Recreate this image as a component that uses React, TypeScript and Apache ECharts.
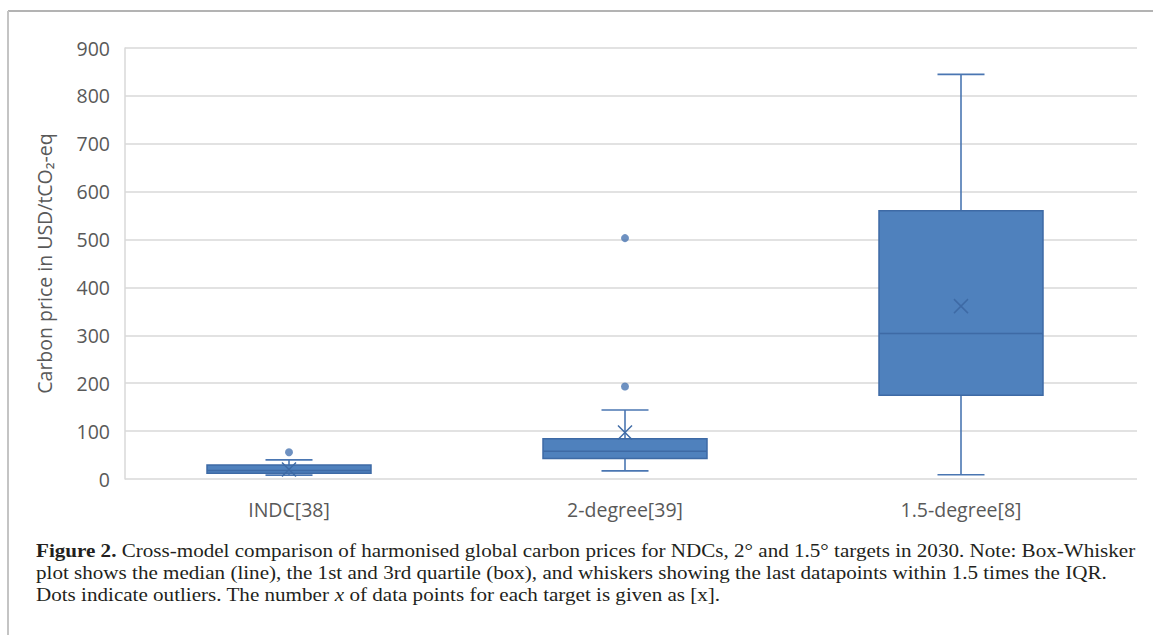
import React, { useEffect, useRef } from "react";
import * as echarts from "echarts";

const categories = ["INDC[38]", "2-degree[39]", "1.5-degree[8]"];
const lowWhisker = [8, 17, 9];
const q1 = [12, 43, 175];
const median = [18, 58, 304];
const q3 = [29, 84, 560];
const highWhisker = [40, 144, 845];
const means = [20, 97, 361];
const outliers: [number, number][] = [
  [0, 56],
  [1, 193],
  [1, 503],
];
const yMin = 0;
const yMax = 900;
const yInterval = 100;

const yAxisName = "Carbon price in USD/tCO₂-eq";
const captionLines = [
  "{b|Figure 2.} Cross-model comparison of harmonised global carbon prices for NDCs, 2° and 1.5° targets in 2030. Note: Box-Whisker",
  "plot shows the median (line), the 1st and 3rd quartile (box), and whiskers showing the last datapoints within 1.5 times the IQR.",
  "Dots indicate outliers. The number {i|x} of data points for each target is given as [x].",
];

const BOX_FILL = "#4f81bd";
const BOX_STROKE = "#3e6aa5";
const LINE_BLUE = "#4a76b2";
const GRID_GRAY = "#d9d9d9";
const LABEL_GRAY = "#595959";
const CAPTION_SIZE = 18;

export default function App() {
  const ref = useRef<HTMLDivElement>(null);

  useEffect(() => {
    if (!ref.current) return;
    const chart = echarts.init(ref.current, undefined, { renderer: "svg" });

    const boxData = categories.map((_, i) => [
      i,
      lowWhisker[i],
      q1[i],
      median[i],
      q3[i],
      highWhisker[i],
      means[i],
    ]);

    const option: any = {
      animation: false,
      backgroundColor: "#ffffff",
      grid: [
        { left: 125, right: 16, top: 48, bottom: 156 },
        { left: 121, right: 24, top: 48, bottom: 156 },
      ],
      xAxis: [
        {
          gridIndex: 0,
          type: "value",
          min: 0,
          max: 1,
          show: false,
        },
        {
          gridIndex: 1,
          type: "category",
          data: categories,
          axisLine: { show: false },
          axisTick: { show: false },
          splitLine: { show: false },
          axisLabel: {
            color: LABEL_GRAY,
            fontFamily: "Open Sans",
            fontSize: 19.5,
            margin: 20,
          },
        },
      ],
      yAxis: [
        {
          gridIndex: 0,
          type: "value",
          min: yMin,
          max: yMax,
          interval: yInterval,
          name: yAxisName,
          nameLocation: "middle",
          nameGap: 71,
          nameTextStyle: {
            color: LABEL_GRAY,
            fontFamily: "Open Sans",
            fontSize: 19.5,
          },
          axisLine: { show: true, lineStyle: { color: GRID_GRAY, width: 1.5 } },
          axisTick: { show: false },
          axisLabel: {
            color: LABEL_GRAY,
            fontFamily: "Open Sans",
            fontSize: 19.5,
            margin: 15,
          },
          splitLine: { show: true, lineStyle: { color: GRID_GRAY, width: 1.5 } },
        },
        {
          gridIndex: 1,
          type: "value",
          min: yMin,
          max: yMax,
          show: false,
        },
      ],
      series: [
        {
          type: "custom",
          xAxisIndex: 1,
          yAxisIndex: 1,
          data: boxData,
          encode: { x: 0, y: [1, 2, 3, 4, 5, 6] },
          renderItem: (_params: any, api: any) => {
            const i = api.value(0);
            const pLow = api.coord([i, api.value(1)]);
            const pQ1 = api.coord([i, api.value(2)]);
            const pMed = api.coord([i, api.value(3)]);
            const pQ3 = api.coord([i, api.value(4)]);
            const pHigh = api.coord([i, api.value(5)]);
            const pMean = api.coord([i, api.value(6)]);
            const cx = pMed[0];
            const bw = 164;
            const cw = 47;
            const m = 7;
            const ls = { stroke: LINE_BLUE, lineWidth: 1.6 };
            return {
              type: "group",
              children: [
                { type: "line", shape: { x1: cx, y1: pHigh[1], x2: cx, y2: pQ3[1] }, style: ls },
                { type: "line", shape: { x1: cx, y1: pQ1[1], x2: cx, y2: pLow[1] }, style: ls },
                { type: "line", shape: { x1: cx - cw / 2, y1: pHigh[1], x2: cx + cw / 2, y2: pHigh[1] }, style: ls },
                { type: "line", shape: { x1: cx - cw / 2, y1: pLow[1], x2: cx + cw / 2, y2: pLow[1] }, style: ls },
                {
                  type: "rect",
                  shape: { x: cx - bw / 2, y: pQ3[1], width: bw, height: pQ1[1] - pQ3[1] },
                  style: { fill: BOX_FILL, stroke: BOX_STROKE, lineWidth: 1.5 },
                },
                {
                  type: "line",
                  shape: { x1: cx - bw / 2, y1: pMed[1], x2: cx + bw / 2, y2: pMed[1] },
                  style: { stroke: BOX_STROKE, lineWidth: 1.5 },
                },
                {
                  type: "line",
                  shape: { x1: cx - m, y1: pMean[1] - m, x2: cx + m, y2: pMean[1] + m },
                  style: { stroke: BOX_STROKE, lineWidth: 1.5 },
                },
                {
                  type: "line",
                  shape: { x1: cx - m, y1: pMean[1] + m, x2: cx + m, y2: pMean[1] - m },
                  style: { stroke: BOX_STROKE, lineWidth: 1.5 },
                },
              ],
            };
          },
          z: 2,
        },
        {
          type: "scatter",
          xAxisIndex: 1,
          yAxisIndex: 1,
          data: outliers,
          symbol: "circle",
          symbolSize: 8,
          itemStyle: { color: LINE_BLUE },
          z: 3,
        },
      ],
      graphic: [
        {
          type: "line",
          shape: { x1: 8, y1: 11, x2: 1153, y2: 11 },
          style: { stroke: "#9a9a9a", lineWidth: 1.5 },
        },
        {
          type: "line",
          shape: { x1: 8, y1: 11, x2: 8, y2: 635 },
          style: { stroke: "#c4c4c4", lineWidth: 2 },
        },
        ...captionLines.map((t, k) => ({
          type: "text",
          x: 36,
          y: 551 + k * 22,
          scaleX: 1.172,
          style: {
            text: t,
            fontFamily: "Liberation Serif",
            fontSize: CAPTION_SIZE,
            fill: "#231f20",
            verticalAlign: "middle",
            rich: {
              b: { fontWeight: "bold", fontFamily: "Liberation Serif", fontSize: CAPTION_SIZE, fill: "#231f20" },
              i: { fontStyle: "italic", fontFamily: "Liberation Serif", fontSize: CAPTION_SIZE, fill: "#231f20" },
            },
          },
        })),
      ],
    };

    chart.setOption(option);
    return () => chart.dispose();
  }, []);

  return (
    <div
      ref={ref}
      style={{ position: "fixed", left: 0, top: 0, width: 1153, height: 635 }}
    />
  );
}
